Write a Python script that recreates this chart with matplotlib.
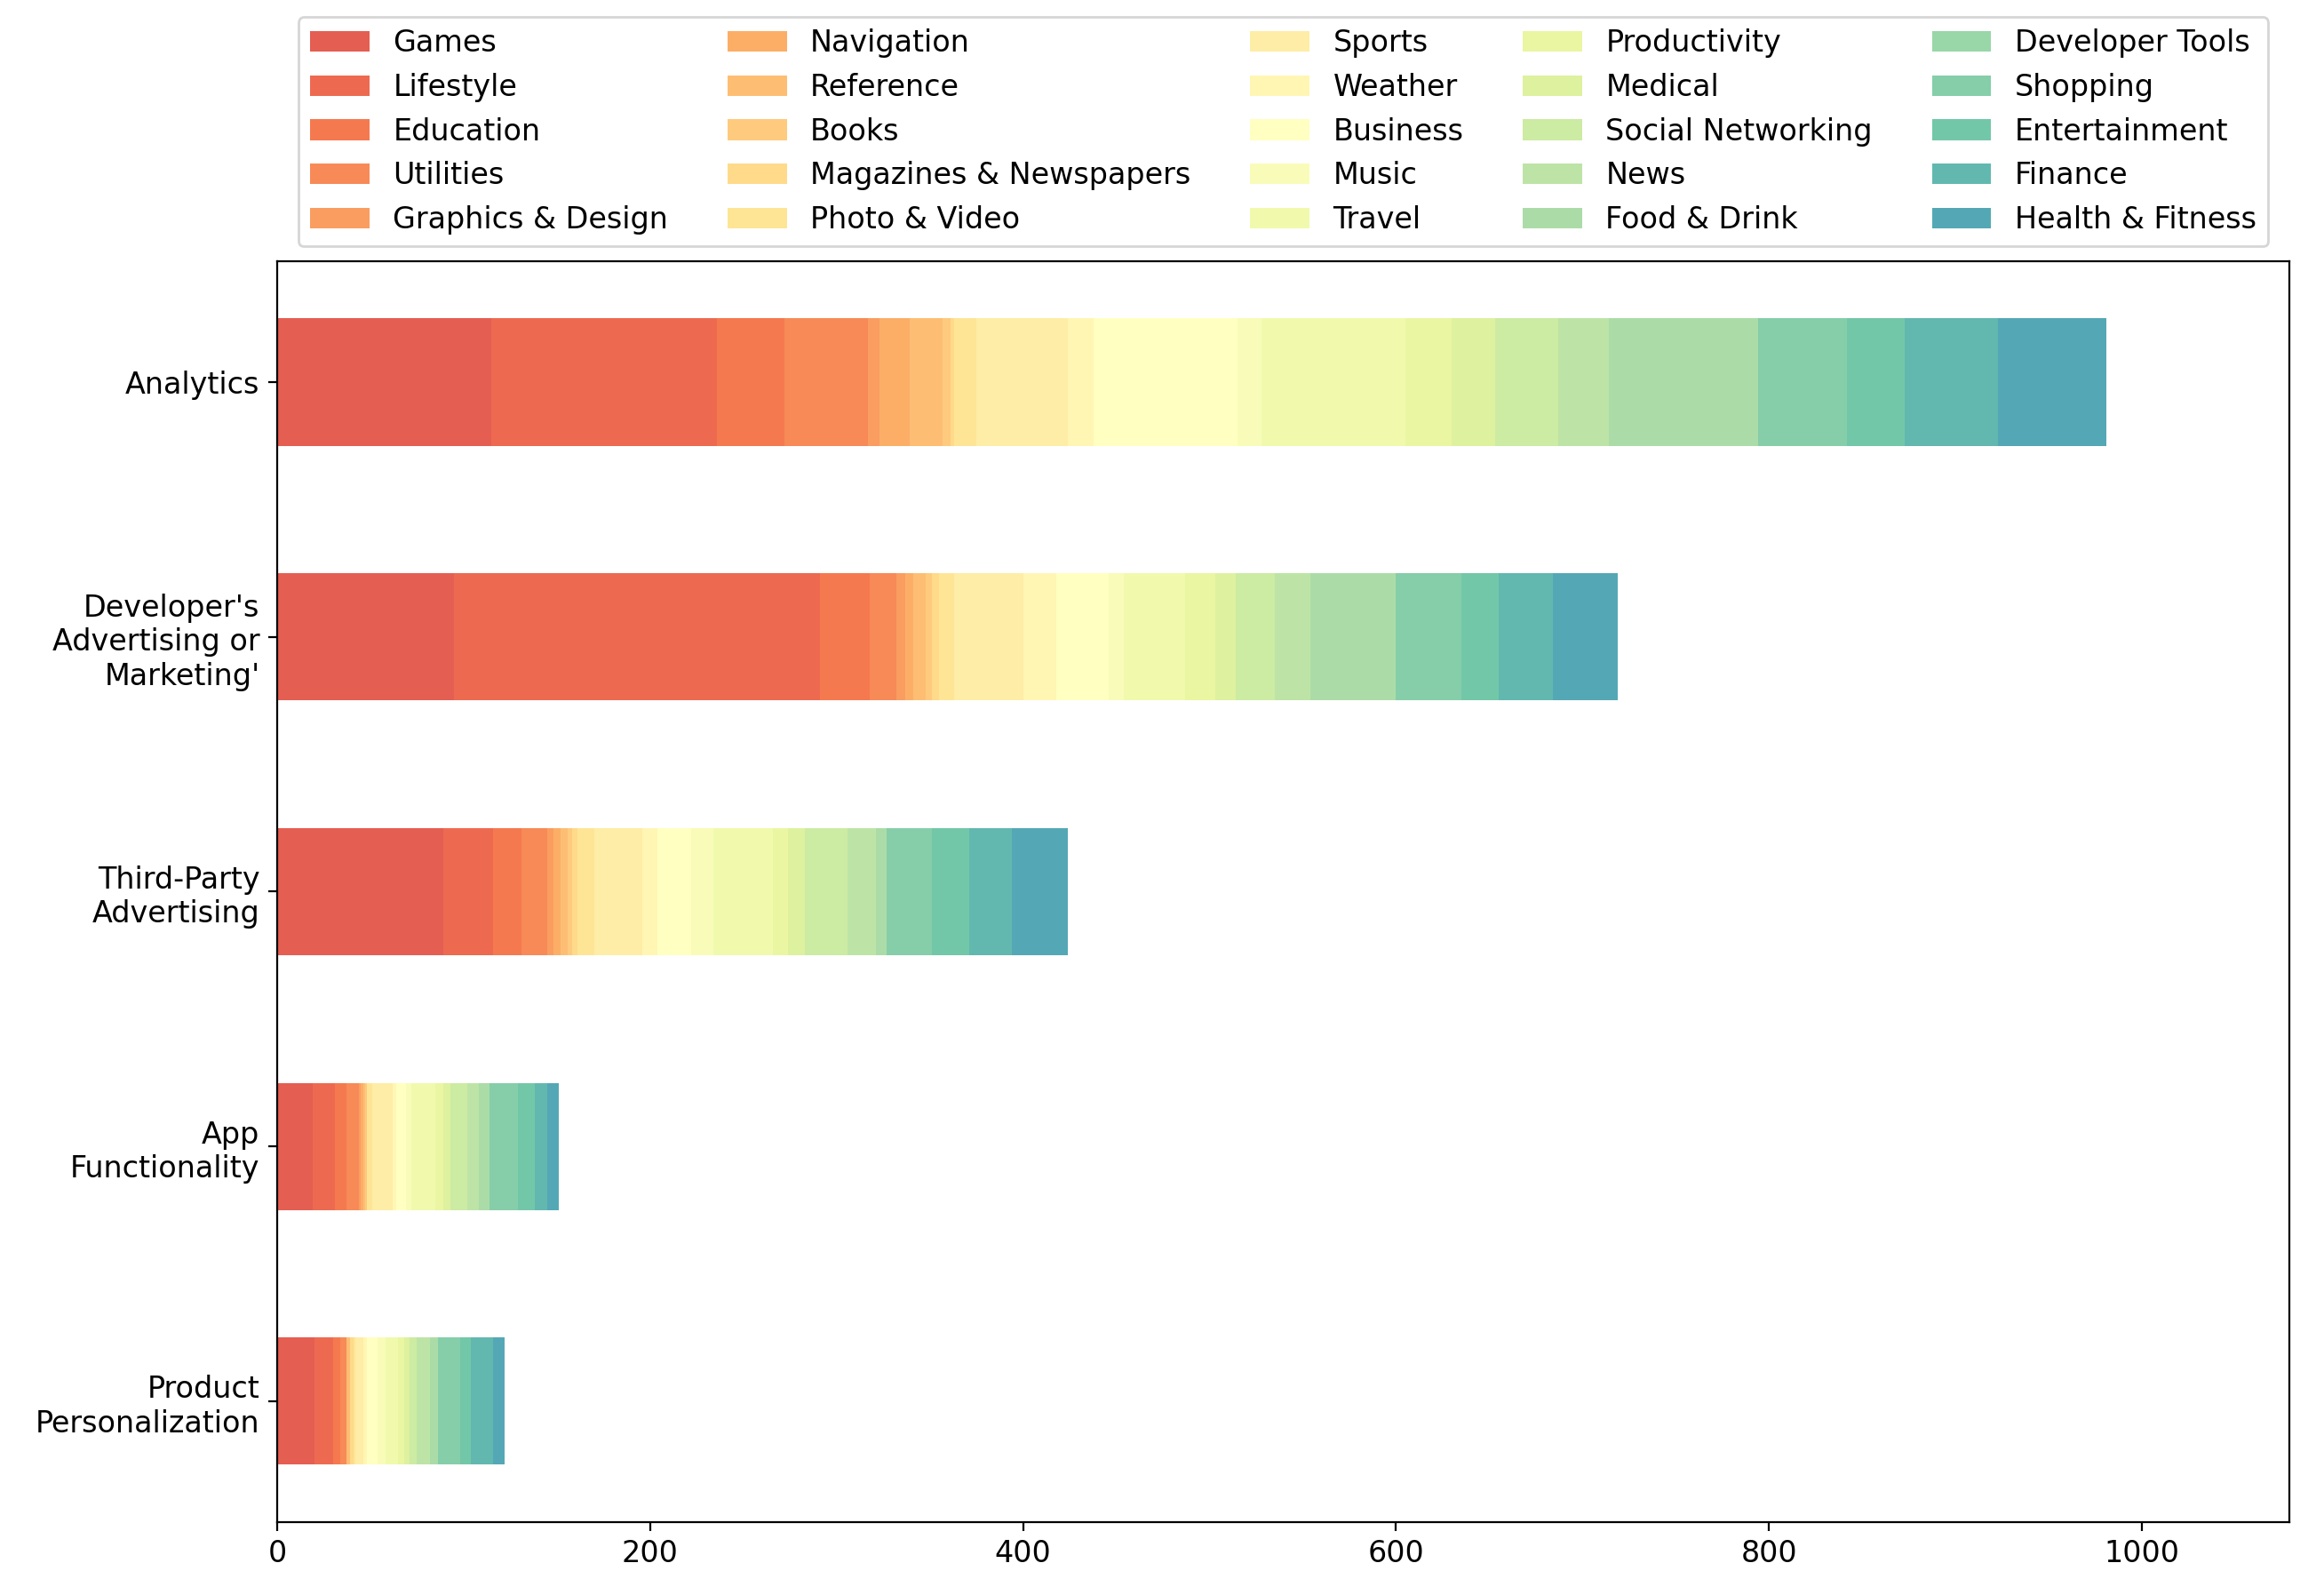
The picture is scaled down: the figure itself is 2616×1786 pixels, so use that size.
import numpy as np
import matplotlib
matplotlib.use("Agg")
import matplotlib.pyplot as plt

purposes = ["Analytics", "Developer's\nAdvertising or\nMarketing'", "Third-Party\nAdvertising",
            "App\nFunctionality", "Product\nPersonalization"]

categories = ["Games", "Lifestyle", "Education", "Utilities", "Graphics & Design",
              "Navigation", "Reference", "Books", "Magazines & Newspapers", "Photo & Video",
              "Sports", "Weather", "Business", "Music", "Travel",
              "Productivity", "Medical", "Social Networking", "News", "Food & Drink",
              "Developer Tools", "Shopping", "Entertainment", "Finance", "Health & Fitness"]

# values per purpose, in category order
analytics = [115, 121, 36, 45, 6, 16, 18, 4, 2, 12, 49, 14, 77, 13, 77, 25, 23, 34, 27, 80, 0, 48, 31, 50, 58]
dev_ads = [95, 196, 27, 14, 5, 4, 7, 3, 4, 8, 37, 18, 28, 8, 33, 16, 11, 21, 19, 46, 0, 35, 20, 29, 35]
third_party = [89, 27, 15, 14, 3, 4, 4, 2, 3, 9, 26, 8, 18, 12, 32, 8, 9, 23, 15, 6, 0, 24, 20, 23, 30]
app_func = [19, 12, 6, 7, 1, 1, 1, 1, 0, 3, 11, 2, 5, 3, 13, 4, 4, 9, 6, 6, 0, 15, 9, 7, 6]
product_pers = [20, 10, 4, 3, 0, 0, 2, 0, 2, 1, 4, 2, 6, 4, 7, 3, 3, 4, 7, 4, 0, 12, 6, 12, 6]

data = np.array([analytics, dev_ads, third_party, app_func, product_pers], dtype=float)

plt.rcParams["font.size"] = 12
fig = plt.figure(figsize=(13.08, 8.93), dpi=200)
ax = fig.add_axes([312 / 2616, 1 - 1713 / 1786, (2577 - 312) / 2616, (1713 - 294) / 1786])

colors = plt.cm.Spectral(np.linspace(0.15, 0.85, len(categories)))
y = np.arange(len(purposes))
left = np.zeros(len(purposes))
for j, cat in enumerate(categories):
    ax.barh(y, data[:, j], left=left, height=0.5, color=colors[j], alpha=0.95, label=cat)
    left += data[:, j]

ax.set_yticks(y)
ax.set_yticklabels(purposes)
ax.invert_yaxis()
ax.set_xlim(0, left.max() * 1.1)
ax.legend(loc="lower center", bbox_to_anchor=(0.5, 1.0), ncol=5)

fig.savefig("out.png", dpi=200)
